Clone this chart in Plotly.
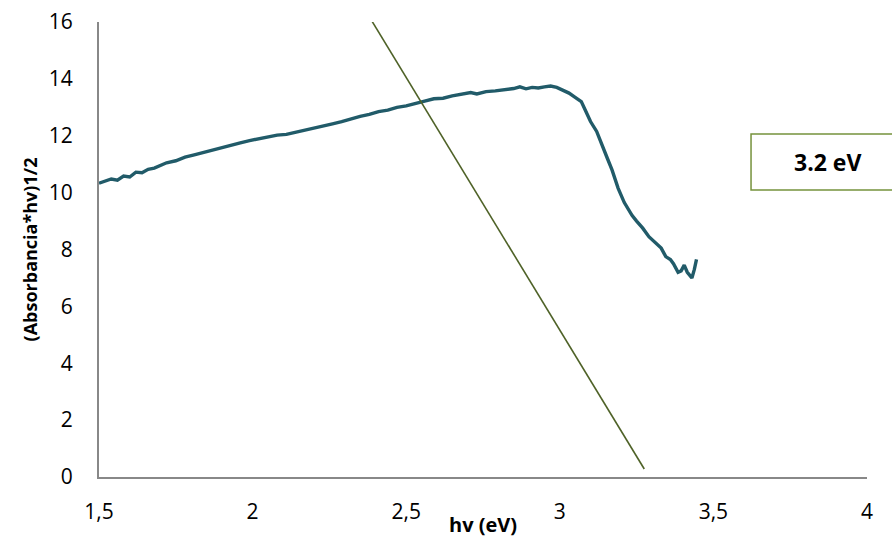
import plotly.graph_objects as go

# Measured curve: hv (eV) vs (Absorbancia*hv)^1/2
hv = [1.50, 1.52, 1.54, 1.56, 1.58, 1.60, 1.62, 1.64, 1.66, 1.68, 1.70, 1.72, 1.75, 1.78,
      1.81, 1.84, 1.87, 1.90, 1.93, 1.96, 1.99, 2.02, 2.05, 2.08, 2.11, 2.14, 2.17, 2.20,
      2.23, 2.26, 2.29, 2.32, 2.35, 2.38, 2.41, 2.44, 2.47, 2.50, 2.53, 2.56, 2.59, 2.62,
      2.65, 2.68, 2.71, 2.73, 2.76, 2.79, 2.82, 2.85, 2.87, 2.89, 2.91, 2.93, 2.95, 2.97,
      2.99, 3.01, 3.03, 3.05, 3.07, 3.085, 3.10, 3.12, 3.14, 3.155, 3.17, 3.19, 3.21, 3.235,
      3.25, 3.27, 3.29, 3.31, 3.33, 3.345, 3.36, 3.37, 3.385, 3.395, 3.405, 3.415, 3.43,
      3.438, 3.445]
signal = [10.33, 10.40, 10.48, 10.44, 10.58, 10.55, 10.72, 10.70, 10.82, 10.86, 10.95, 11.05,
          11.12, 11.25, 11.33, 11.42, 11.50, 11.60, 11.68, 11.75, 11.83, 11.90, 11.95, 12.02,
          12.05, 12.12, 12.18, 12.25, 12.35, 12.42, 12.50, 12.60, 12.68, 12.75, 12.85, 12.90,
          13.00, 13.05, 13.12, 13.22, 13.30, 13.32, 13.40, 13.45, 13.52, 13.47, 13.55, 13.58,
          13.62, 13.66, 13.72, 13.65, 13.70, 13.68, 13.72, 13.75, 13.70, 13.60, 13.50, 13.35,
          13.20, 12.85, 12.50, 12.15, 11.65, 11.20, 10.80, 10.15, 9.65, 9.20, 9.00, 8.75,
          8.45, 8.25, 8.05, 7.75, 7.65, 7.50, 7.20, 7.25, 7.45, 7.20, 7.00, 7.30, 7.65]

# Tangent (extrapolation) line
fit_x = [2.379, 3.275]
fit_y = [16.2, 0.28]

x_ticks = [1.5, 2, 2.5, 3, 3.5, 4]
x_tick_labels = ["1,5", "2", "2,5", "3", "3,5", "4"]
y_ticks = [0, 2, 4, 6, 8, 10, 12, 14, 16]

x_title = "hv (eV)"
y_title = "(Absorbancia*hv)1/2"
band_gap_label = "3.2 eV"
FONT = "Open Sans"

fig = go.Figure()
fig.add_trace(go.Scatter(x=hv, y=signal, mode="lines",
                         line=dict(color="#215B69", width=3.4), showlegend=False,
                         cliponaxis=False))
fig.add_trace(go.Scatter(x=fit_x, y=fit_y, mode="lines",
                         line=dict(color="#4F6228", width=1.6), showlegend=False,
                         cliponaxis=False))

fig.add_shape(type="rect", xref="paper", yref="paper",
              x0=0.849, x1=1.04, y0=0.631, y1=0.754,
              line=dict(color="#76923C", width=1.5), fillcolor="white", layer="above")
fig.add_annotation(xref="paper", yref="paper", x=0.948, y=0.692,
                   xanchor="center", yanchor="middle",
                   text="<b>" + band_gap_label + "</b>", showarrow=False,
                   font=dict(family=FONT, size=23, color="#000000"))
fig.add_annotation(xref="paper", yref="paper", x=0.5, y=-0.104,
                   xanchor="center", yanchor="middle",
                   text="<b>" + x_title + "</b>", showarrow=False,
                   font=dict(family=FONT, size=20, color="#000000"))

fig.update_layout(
    width=892, height=540,
    margin=dict(l=99, r=25, t=22, b=63),
    plot_bgcolor="white", paper_bgcolor="white",
    font=dict(family=FONT, size=21, color="#000000"),
    xaxis=dict(range=[1.5, 4], tickvals=x_ticks, ticktext=x_tick_labels,
               showgrid=False, zeroline=False, showline=True, automargin=False,
               linecolor="#888888", linewidth=2,
               ticks="outside", ticklen=15, tickcolor="rgba(0,0,0,0)",
               tickfont=dict(family=FONT, size=21)),
    yaxis=dict(range=[0, 16], tickvals=y_ticks,
               showgrid=False, zeroline=False, showline=True, automargin=False,
               linecolor="#888888", linewidth=2,
               ticks="outside", ticklen=20, tickcolor="rgba(0,0,0,0)",
               tickfont=dict(family=FONT, size=21),
               title=dict(text="<b>" + y_title + "</b>", standoff=6,
                          font=dict(family=FONT, size=18))),
)

fig.write_html("out.html")
